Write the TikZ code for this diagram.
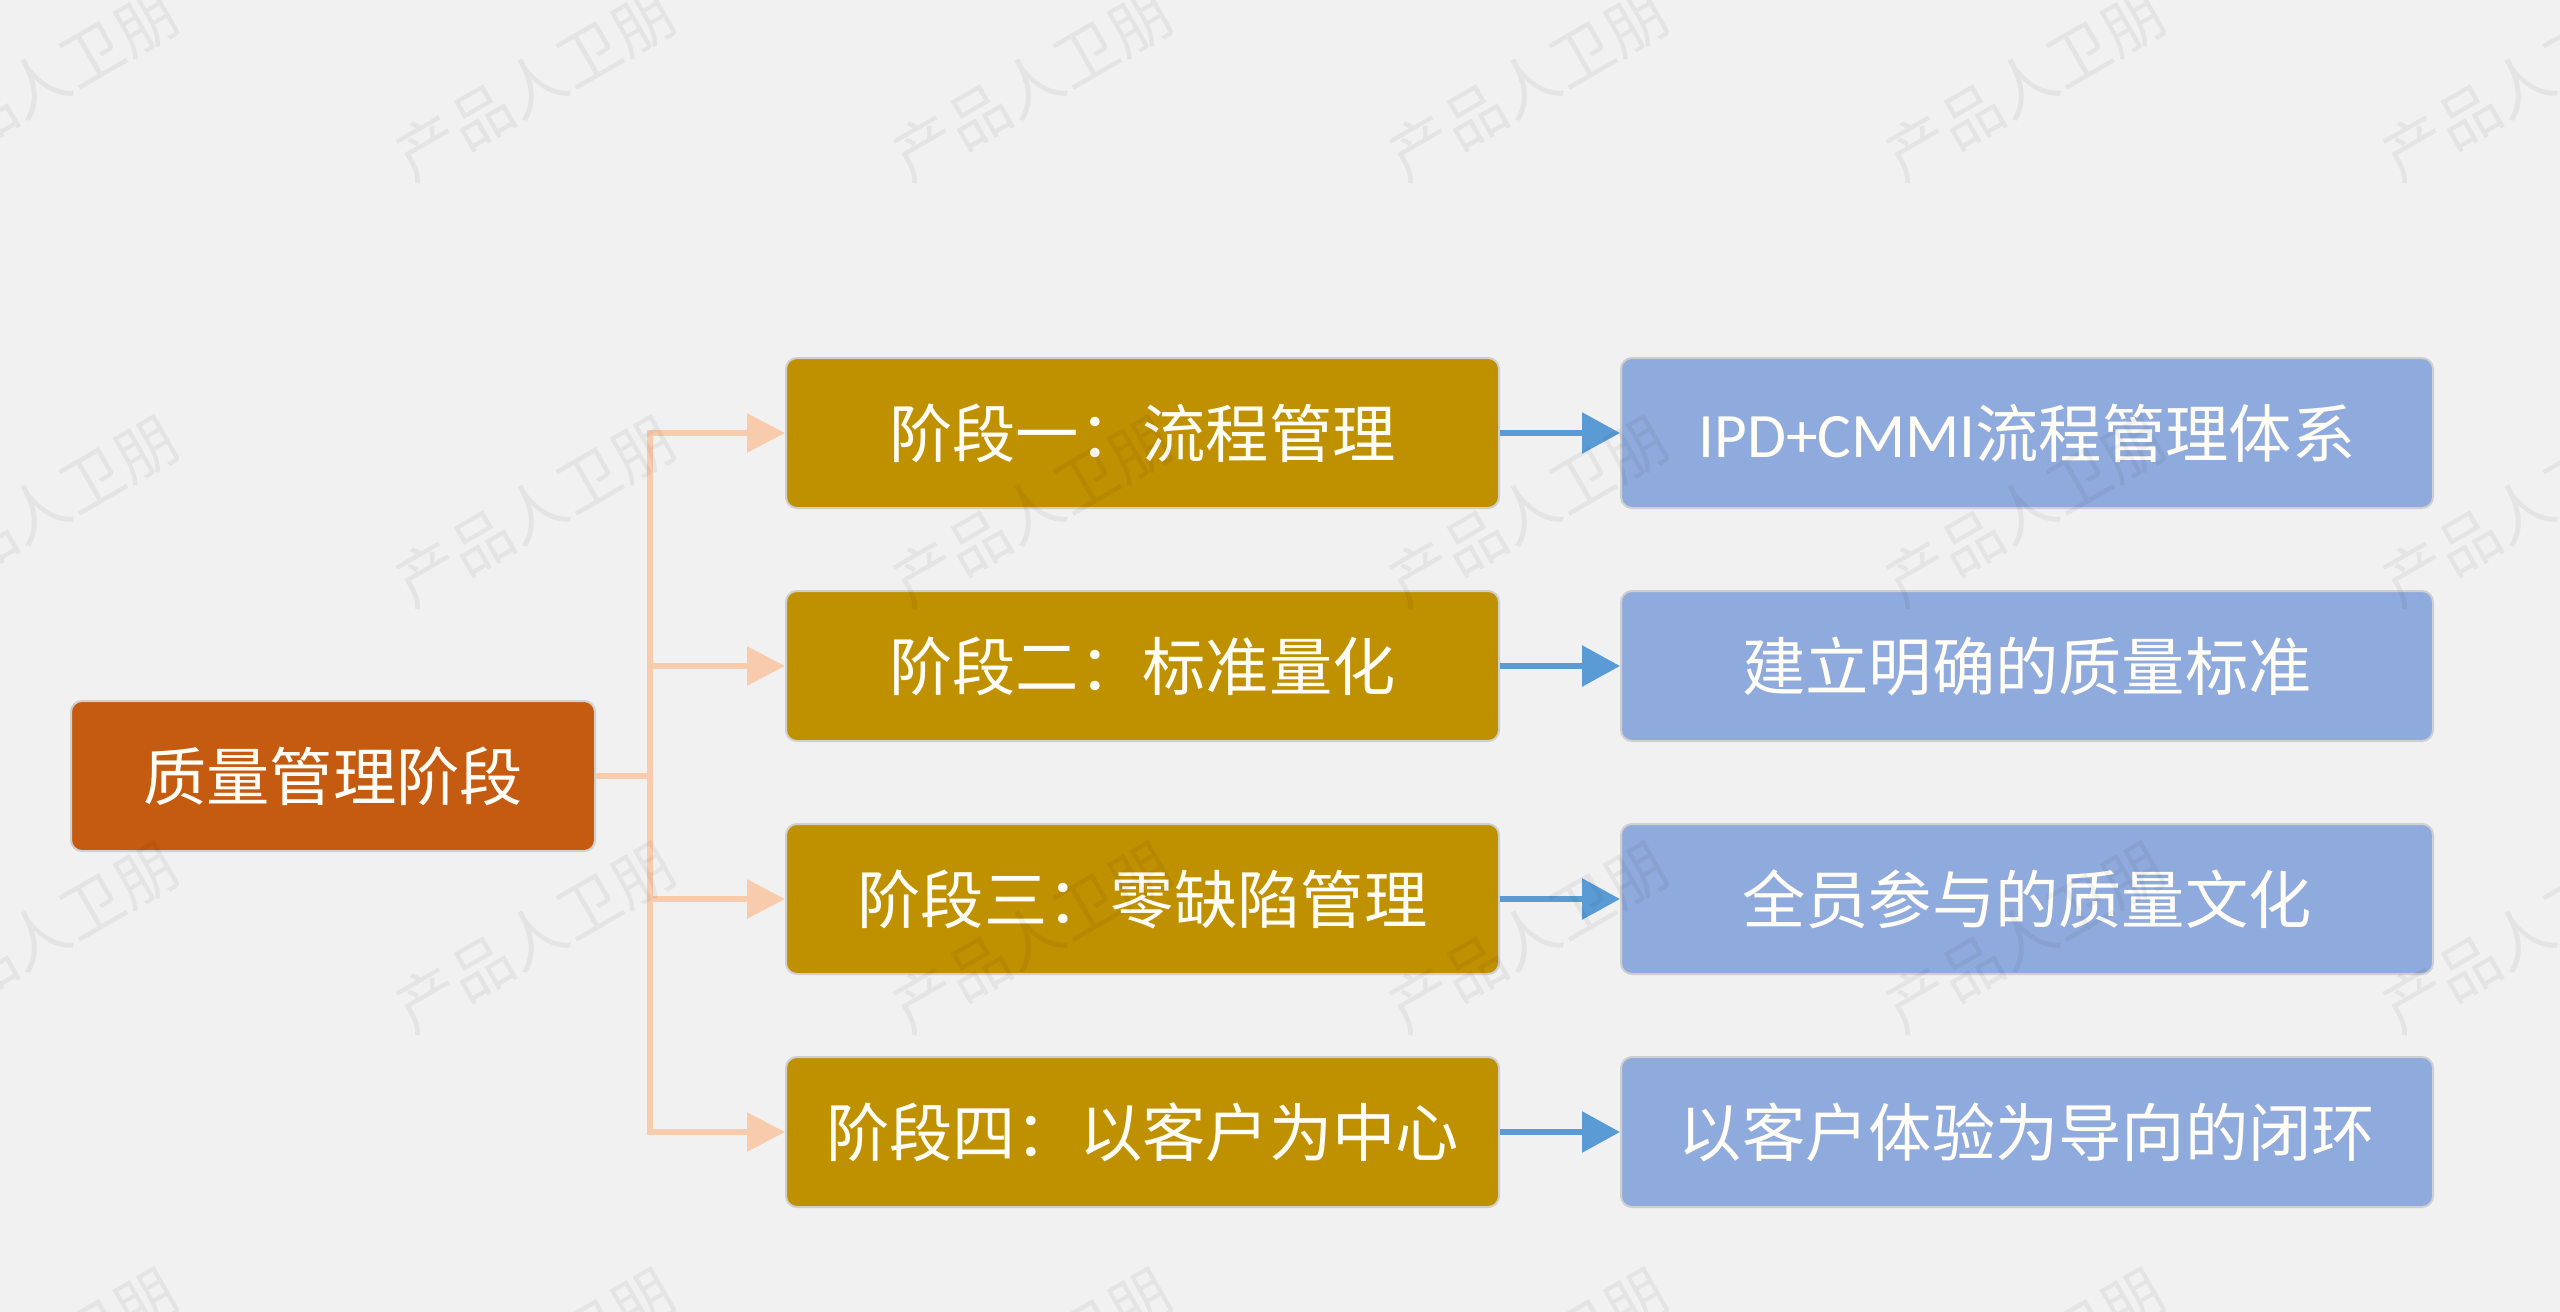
\documentclass[tikz,border=0pt]{standalone}
\usepackage{fontspec}
\usetikzlibrary{arrows.meta}
\setmainfont{Noto Sans CJK SC}
\newfontfamily\latinpart{Carlito}
\definecolor{bgc}{HTML}{F1F1F1}
\definecolor{rootc}{HTML}{C55A11}
\definecolor{stagec}{HTML}{BF9000}
\definecolor{detailc}{HTML}{8FAADC}
\definecolor{peach}{HTML}{F8CBAD}
\definecolor{bluec}{HTML}{5B9BD5}
\definecolor{edgec}{HTML}{CFCFCF}
\definecolor{textc}{HTML}{FFFDF5}
\tikzset{
  boxbase/.style={rectangle,rounded corners=11pt,draw=edgec,line width=2pt,inner sep=0pt,
    text=textc,font=\fontsize{63.3}{72}\selectfont,anchor=center},
  rootbox/.style={boxbase,fill=rootc,minimum width=524pt,minimum height=150pt},
  stagebox/.style={boxbase,fill=stagec,minimum width=713pt,minimum height=150pt},
  detailbox/.style={boxbase,fill=detailc,minimum width=812pt,minimum height=150pt},
  peachline/.style={draw=peach,line width=6pt},
  peacharrow/.style={peachline,-{Triangle[length=38pt,width=38pt]}},
  bluearrow/.style={draw=bluec,line width=6pt,-{Triangle[length=38pt,width=40pt]}},
  wmark/.style={rotate=30,text=black,text opacity=0.05,font=\fontsize{62}{64}\selectfont,inner sep=0pt,anchor=center},
}
\begin{document}
\begin{tikzpicture}[x=1pt,y=-1pt]
\fill[bgc] (0,0) rectangle (2560,1312);
\useasboundingbox (0,0) rectangle (2560,1312);
\node[rootbox] (root) at (333,776) {质量管理阶段};
\node[stagebox] (s1) at (1142.5,433) {阶段一：流程管理};
\node[stagebox] (s2) at (1142.5,666) {阶段二：标准量化};
\node[stagebox] (s3) at (1142.5,899) {阶段三：零缺陷管理};
\node[stagebox] (s4) at (1142.5,1132) {阶段四：以客户为中心};
\node[detailbox] (d1) at (2027,433) {{\latinpart IPD+CMMI}流程管理体系};
\node[detailbox] (d2) at (2027,666) {建立明确的质量标准};
\node[detailbox] (d3) at (2027,899) {全员参与的质量文化};
\node[detailbox] (d4) at (2027,1132) {以客户体验为导向的闭环};
\coordinate (spine) at (650,776);
\draw[peachline] (root.east) -- (spine);
\draw[peacharrow] (spine) |- (s1.west);
\draw[peacharrow] (spine) |- (s2.west);
\draw[peacharrow] (spine) |- (s3.west);
\draw[peacharrow] (spine) |- (s4.west);
\draw[bluearrow] (s1.east) -- (d1.west);
\draw[bluearrow] (s2.east) -- (d2.west);
\draw[bluearrow] (s3.east) -- (d3.west);
\draw[bluearrow] (s4.east) -- (d4.west);
\foreach \yy/\rr in {85/a,511/b,937/c,1363/d}
  \foreach \xx/\cc in {38/a,535/b,1032/c,1528/d,2025/e,2522/f}
    \node[wmark] (w\rr\cc) at (\xx,\yy) {产品人卫朋};
\end{tikzpicture}
\end{document}
